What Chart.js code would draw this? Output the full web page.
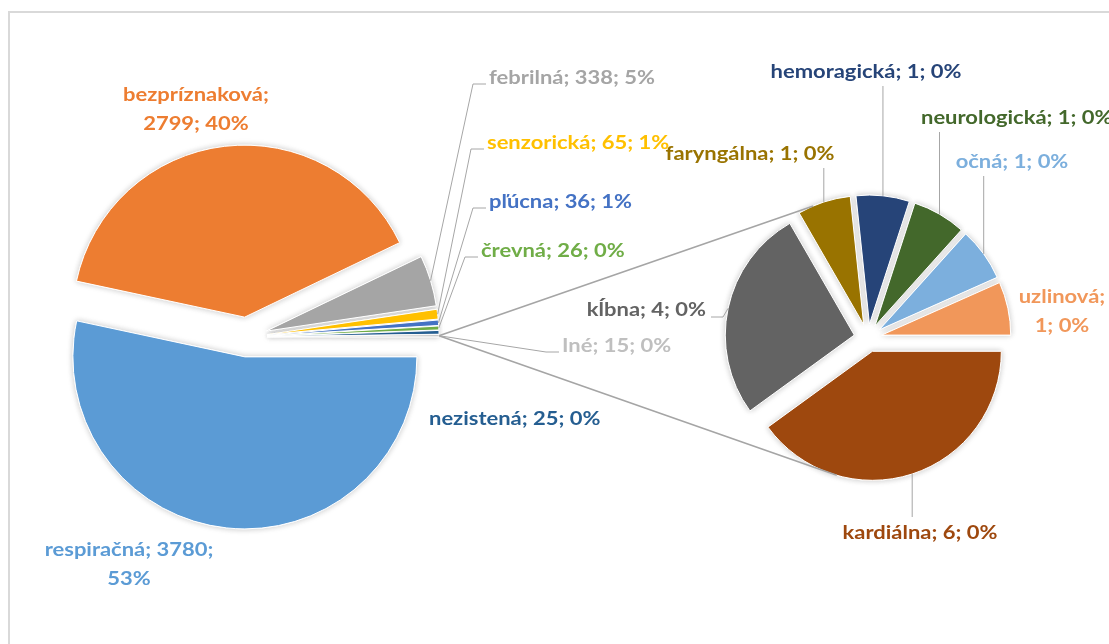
<!DOCTYPE html>
<html>
<head>
<meta charset="utf-8">
<script src="https://cdn.jsdelivr.net/npm/chart.js@4.4.1/dist/chart.umd.min.js"></script>
<style>
  body { margin: 0; background: #fff; overflow: hidden; width: 1109px; height: 644px; }
  .frame { position: absolute; left: 8px; top: 11px; width: 1200px; height: 700px; border: 2px solid #d9d9d9; }
  canvas { position: absolute; left: 0; top: 0; }
</style>
</head>
<body>
<div class="frame"></div>
<canvas id="mainPie" width="1109" height="644"></canvas>
<canvas id="subPie" width="1109" height="644"></canvas>
<script>
// main pie (last slice "Iné" is split into the small pie)
const mainNames = ['respiračná', 'bezpríznaková', 'febrilná', 'senzorická', 'pľúcna', 'črevná', 'nezistená', 'Iné'];
const mainValues = [3780, 2799, 338, 65, 36, 26, 25, 15];
const mainColors = ['#5B9BD5', '#ED7D31', '#A5A5A5', '#FFC000', '#4472C4', '#70AD47', '#255E91', '#BFBFBF'];

// small pie = "Iné"
const subNames = ['kardiálna', 'kĺbna', 'faryngálna', 'hemoragická', 'neurologická', 'očná', 'uzlinová'];
const subValues = [6, 4, 1, 1, 1, 1, 1];
const subColors = ['#9E480E', '#636363', '#997300', '#264478', '#43682B', '#7CAFDD', '#F1975A'];

const total = mainValues.reduce(function (a, b) { return a + b; }, 0);

// where the labels sit (br = break line after that many parts)
const mainLabelPos = [
    { x: 129, y: 550, align: 'center', br: 2 },
    { x: 196, y: 95, align: 'center', br: 1 },
    { x: 489, y: 78, align: 'left', lead: 'side' },
    { x: 487, y: 143, align: 'left', lead: 'side' },
    { x: 489, y: 202, align: 'left', lead: 'side' },
    { x: 481, y: 251, align: 'left', lead: 'side' },
    { x: 429, y: 419, align: 'left' },
    { x: 562, y: 346, align: 'left', lead: 'side' }
];
const subLabelPos = [
    { x: 920, y: 533, align: 'center', lead: 'vert' },
    { x: 706, y: 310, align: 'right', lead: 'side' },
    { x: 750, y: 154, align: 'center', lead: 'vert' },
    { x: 866, y: 72, align: 'center', lead: 'vert' },
    { x: 921, y: 118, align: 'left', lead: 'vert' },
    { x: 1012, y: 162, align: 'center', lead: 'vert' },
    { x: 1062, y: 297, align: 'center', br: 1 }
];

const FONT = 'bold 19px Lato';
const STRETCH = 1.155;   // the labels in the picture are drawn wide
const LINE_H = 29;

function pctText(v) {
    return Math.round(v / total * 100) + '%';
}

// point on an exploded arc at angle a
function arcPoint(arc, dist, a) {
    const mid = (arc.startAngle + arc.endAngle) / 2;
    return {
        x: arc.x + Math.cos(mid) * dist + Math.cos(a) * arc.outerRadius,
        y: arc.y + Math.sin(mid) * dist + Math.sin(a) * arc.outerRadius
    };
}

const explode = {
    id: 'explode',
    beforeDatasetDraw(chart, args, opts) {
        const ctx = chart.ctx;
        const arcs = args.meta.data;
        // shadows first, then the slices on top
        for (let pass = 0; pass < 2; pass++) {
            arcs.forEach(function (arc) {
                const mid = (arc.startAngle + arc.endAngle) / 2;
                ctx.save();
                if (pass === 0) {
                    ctx.shadowColor = 'rgba(0,0,0,0.22)';
                    ctx.shadowBlur = 6;
                }
                ctx.translate(Math.cos(mid) * opts.dist, Math.sin(mid) * opts.dist);
                arc.draw(ctx);
                ctx.restore();
            });
        }
        return false;
    },
    afterDraw(chart, args, opts) {
        const ctx = chart.ctx;
        const arcs = chart.getDatasetMeta(0).data;
        const ds = chart.data.datasets[0];
        ctx.save();
        ctx.strokeStyle = '#A6A6A6';
        ctx.lineWidth = 1;
        opts.labels.forEach(function (lp, i) {
            if (!lp.lead) return;
            const arc = arcs[i];
            const mid = (arc.startAngle + arc.endAngle) / 2;
            const p = arcPoint(arc, opts.dist, mid);
            ctx.beginPath();
            ctx.moveTo(p.x, p.y);
            if (lp.lead === 'vert') {
                ctx.lineTo(p.x, lp.y < p.y ? lp.y + 14 : lp.y - 16);
            } else if (lp.align === 'right') {
                ctx.lineTo(lp.x + 17, lp.y + 7);
                ctx.lineTo(lp.x + 5, lp.y + 7);
            } else {
                ctx.lineTo(lp.x - 16, lp.y + 6);
                ctx.lineTo(lp.x - 3, lp.y + 6);
            }
            ctx.stroke();
        });
        ctx.font = FONT;
        ctx.textBaseline = 'middle';
        opts.labels.forEach(function (lp, i) {
            const parts = [chart.data.labels[i], ds.data[i], pctText(ds.data[i])];
            let lines = [parts.join('; ')];
            if (lp.br) {
                lines = [parts.slice(0, lp.br).join('; ') + ';', parts.slice(lp.br).join('; ')];
            }
            ctx.fillStyle = ds.backgroundColor[i];
            ctx.textAlign = lp.align;
            lines.forEach(function (t, k) {
                ctx.save();
                ctx.translate(lp.x, lp.y + k * LINE_H);
                ctx.scale(STRETCH, 1);
                ctx.fillText(t, 0, 0);
                ctx.restore();
            });
        });
        ctx.restore();
    }
};

var mainChart = new Chart(document.getElementById('mainPie'), {
    type: 'pie',
    data: {
        labels: mainNames,
        datasets: [{ data: mainValues, backgroundColor: mainColors, borderColor: '#fff', borderWidth: 1 }]
    },
    options: {
        responsive: false,
        animation: false,
        events: [],
        rotation: 90,
        radius: 172,
        layout: { padding: { left: 0, right: 615, top: 30, bottom: 0 } },
        plugins: {
            legend: { display: false },
            tooltip: { enabled: false },
            explode: { dist: 20, labels: mainLabelPos }
        }
    },
    plugins: [explode]
});

// lines joining "Iné" to the small pie
const connector = {
    id: 'connector',
    afterDraw(chart) {
        const ctx = chart.ctx;
        const ine = mainChart.getDatasetMeta(0).data[mainValues.length - 1];
        const sub = chart.getDatasetMeta(0).data;
        const from = arcPoint(ine, 20, (ine.startAngle + ine.endAngle) / 2);
        const top = arcPoint(sub[2], 14, 247 * Math.PI / 180);
        const bottom = arcPoint(sub[0], 14, 106 * Math.PI / 180);
        ctx.save();
        ctx.strokeStyle = '#A5A5A5';
        ctx.lineWidth = 1.6;
        ctx.beginPath();
        ctx.moveTo(from.x, from.y);
        ctx.lineTo(top.x, top.y);
        ctx.moveTo(from.x, from.y);
        ctx.lineTo(bottom.x, bottom.y);
        ctx.stroke();
        ctx.restore();
    }
};

var subChart = new Chart(document.getElementById('subPie'), {
    type: 'pie',
    data: {
        labels: subNames,
        datasets: [{ data: subValues, backgroundColor: subColors, borderColor: '#fff', borderWidth: 1 }]
    },
    options: {
        responsive: false,
        animation: false,
        events: [],
        rotation: 90,
        radius: 129,
        layout: { padding: { left: 627, right: 0, top: 32, bottom: 0 } },
        plugins: {
            legend: { display: false },
            tooltip: { enabled: false },
            explode: { dist: 14, labels: subLabelPos }
        }
    },
    plugins: [explode, connector]
});
</script>
</body>
</html>
